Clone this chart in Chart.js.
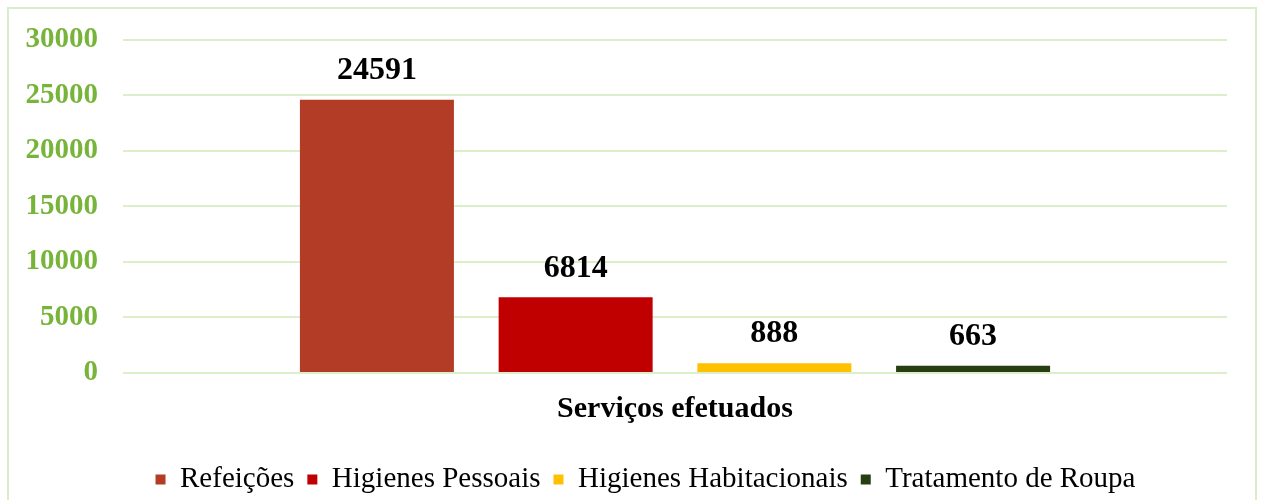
<!DOCTYPE html>
<html>
<head>
<meta charset="utf-8">
<script src="https://cdn.jsdelivr.net/npm/chart.js@4"></script>
<style>
  html, body { margin: 0; padding: 0; background: #fff; }
  #wrap { width: 1261px; height: 500px; position: relative; }
</style>
</head>
<body>
<div id="wrap"><canvas id="myChart" width="1261" height="500"></canvas></div>
<script>
// data
const categories = ['Serviços efetuados'];
const seriesNames = ['Refeições', 'Higienes Pessoais', 'Higienes Habitacionais', 'Tratamento de Roupa'];
const refeicoes = [24591];
const higienesPessoais = [6814];
const higienesHabitacionais = [888];
const tratamentoRoupa = [663];
const yTicks = [0, 5000, 10000, 15000, 20000, 25000, 30000];

const colors = ['#b33c27', '#c00000', '#ffc000', '#273d12'];
const seriesValues = [refeicoes, higienesPessoais, higienesHabitacionais, tratamentoRoupa];

const serif = '"Liberation Serif", "Times New Roman", serif';
const gridGreen = '#dbefcb';

// value labels above each bar
const valueLabels = {
    id: 'valueLabels',
    afterDatasetsDraw(chart) {
        const ctx = chart.ctx;
        ctx.save();
        ctx.font = 'bold 32px ' + serif;
        ctx.fillStyle = '#000';
        ctx.textAlign = 'center';
        ctx.textBaseline = 'middle';
        chart.data.datasets.forEach((ds, i) => {
            chart.getDatasetMeta(i).data.forEach((bar, j) => {
                ctx.fillText(String(ds.data[j]), bar.x, bar.y - 29);
            });
        });
        ctx.restore();
    }
};

// light green frame round the whole chart, legend nudged right like the original
const frame = {
    id: 'frame',
    afterLayout(chart) {
        chart.legend.left += 32;
        chart.legend.right += 32;
    },
    beforeDraw(chart) {
        const ctx = chart.ctx;
        ctx.save();
        ctx.strokeStyle = '#d9edc9';
        ctx.lineWidth = 2;
        ctx.strokeRect(8, 8, 1248, 510);
        ctx.restore();
    }
};

const ctx = document.getElementById('myChart').getContext('2d');
new Chart(ctx, {
    type: 'bar',
    data: {
        labels: categories,
        datasets: seriesNames.map((name, i) => ({
            label: name,
            data: seriesValues[i],
            backgroundColor: colors[i],
            borderWidth: 0,
            categoryPercentage: 0.72,
            barPercentage: 0.775
        }))
    },
    options: {
        responsive: false,
        animation: false,
        layout: { padding: { top: 38, right: 34, bottom: -4, left: 0 } },
        scales: {
            x: {
                grid: { display: false, drawTicks: false },
                border: { display: false },
                ticks: {
                    color: '#000',
                    padding: 18,
                    font: { family: serif, size: 30, weight: 'bold' }
                },
                afterFit: s => { s.height = 79; }
            },
            y: {
                min: 0,
                max: 30000,
                afterBuildTicks: s => { s.ticks = yTicks.map(v => ({ value: v })); },
                grid: { color: gridGreen, lineWidth: 2, drawTicks: false },
                border: { display: false },
                ticks: {
                    color: '#77b43a',
                    padding: 25,
                    callback: v => String(v),
                    font: { family: serif, size: 29, weight: 'bold', lineHeight: 1 }
                },
                afterFit: s => { s.width = 123; }
            }
        },
        plugins: {
            legend: {
                position: 'bottom',
                labels: {
                    boxWidth: 10,
                    boxHeight: 10,
                    padding: 13,
                    color: '#000',
                    font: { family: serif, size: 29 }
                }
            },
            tooltip: { enabled: false }
        }
    },
    plugins: [frame, valueLabels]
});
</script>
</body>
</html>
